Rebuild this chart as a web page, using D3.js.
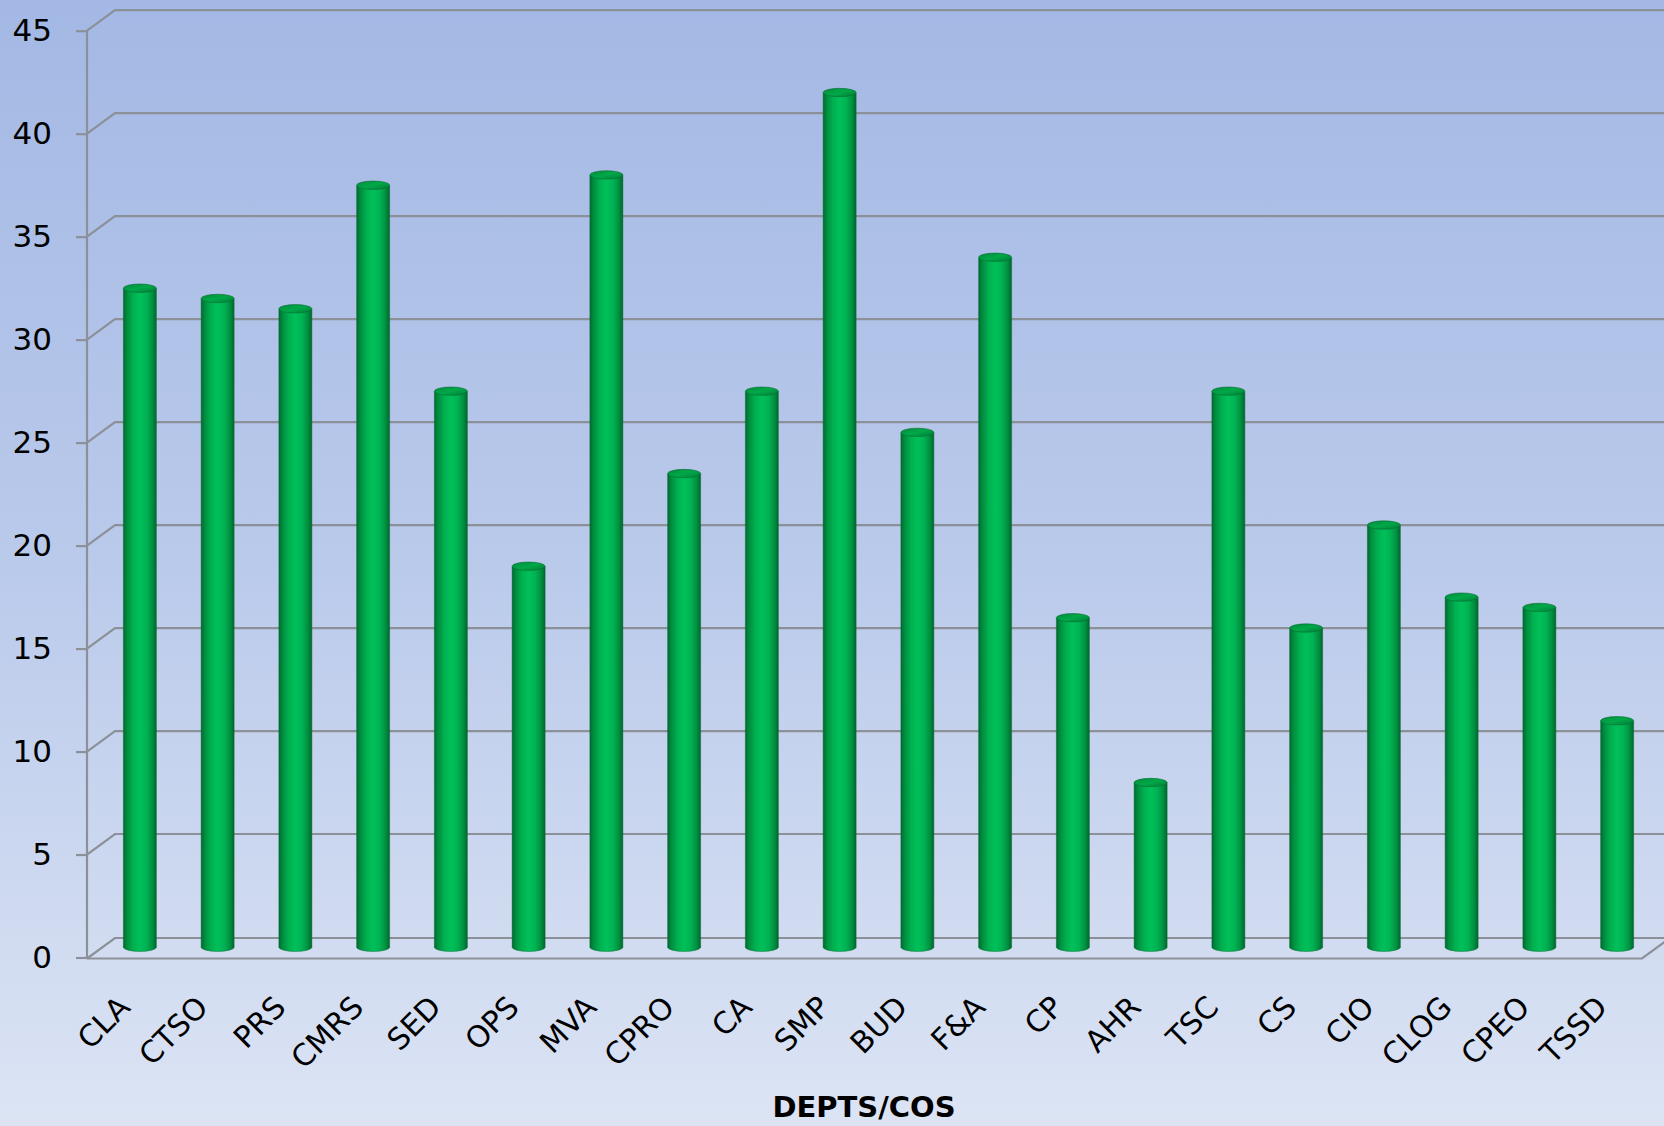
<!DOCTYPE html>
<html>
<head>
<meta charset="utf-8">
<script src="https://cdn.jsdelivr.net/npm/d3@7"></script>
<style>
  html, body { margin: 0; padding: 0; background: #cdd8ef; }
  svg { display: block; }
  text { font-family: "DejaVu Sans", sans-serif; fill: #000; }
</style>
</head>
<body>
<script>
const categories = ["CLA","CTSO","PRS","CMRS","SED","OPS","MVA","CPRO","CA","SMP","BUD","F&A","CP","AHR","TSC","CS","CIO","CLOG","CPEO","TSSD"];
const values = [32, 31.5, 31, 37, 27, 18.5, 37.5, 23, 27, 41.5, 25, 33.5, 16, 8, 27, 15.5, 20.5, 17, 16.5, 11];
const yTicks = [0, 5, 10, 15, 20, 25, 30, 35, 40, 45];
const xTitle = "DEPTS/COS";

const W = 1664, H = 1126;
const FONT = '"DejaVu Sans", sans-serif';
const frontLeft = 87, frontRight = 1642;
const depthX = 28, depthY = -20.5;
const svg = d3.select("body").append("svg").attr("width", W).attr("height", H);
const defs = svg.append("defs");

// background gradient
const bg = defs.append("linearGradient").attr("id", "bg").attr("x1", 0).attr("y1", 0).attr("x2", 0).attr("y2", 1);
bg.append("stop").attr("offset", "0%").attr("stop-color", "#a3b8e4");
bg.append("stop").attr("offset", "50%").attr("stop-color", "#bacaeb");
bg.append("stop").attr("offset", "100%").attr("stop-color", "#dce4f4");
svg.append("rect").attr("width", W).attr("height", H).attr("fill", "url(#bg)");

// cylinder body gradient
const cg = defs.append("linearGradient").attr("id", "cyl").attr("x1", 0).attr("y1", 0).attr("x2", 1).attr("y2", 0);
[["0%","#006a2e"],["10%","#008a3e"],["30%","#00b04f"],["50%","#00c05a"],["70%","#00b252"],["88%","#008f40"],["100%","#00672d"]]
  .forEach(s => cg.append("stop").attr("offset", s[0]).attr("stop-color", s[1]));
const tg = defs.append("linearGradient").attr("id", "cyltop").attr("x1", 0).attr("y1", 0).attr("x2", 1).attr("y2", 1);
[["0%","#008a3d"],["50%","#00a848"],["100%","#007d37"]]
  .forEach(s => tg.append("stop").attr("offset", s[0]).attr("stop-color", s[1]));

const yFront = d3.scaleLinear().domain([0, 45]).range([957.5, 30.7]);
const yBack = v => yFront(v) + depthY;
const yMid = v => yFront(v) + depthY / 2;
const x = d3.scaleBand().domain(categories).range([frontLeft, frontRight]).padding(0);

const grid = "#8c9098";
// floor
const floorY = 958.5;
svg.append("path")
  .attr("d", `M${frontLeft},${floorY} L${frontLeft + depthX},${floorY + depthY} L${W + 10},${floorY + depthY}`)
  .attr("fill", "none").attr("stroke", grid).attr("stroke-width", 2.2);
svg.append("path")
  .attr("d", `M${frontLeft},${floorY} L${frontRight},${floorY} L${frontRight + depthX},${floorY + depthY}`)
  .attr("fill", "none").attr("stroke", grid).attr("stroke-width", 2.2);

// gridlines (side wall + back wall)
svg.append("g").selectAll("path").data(yTicks.filter(d => d > 0)).join("path")
  .attr("d", d => `M${frontLeft},${yFront(d)} L${frontLeft + depthX},${yBack(d)} L${W + 10},${yBack(d)}`)
  .attr("fill", "none").attr("stroke", grid).attr("stroke-width", 2.2);

// y axis
const yAxis = svg.append("g").attr("transform", `translate(${frontLeft},0)`)
  .call(d3.axisLeft(yFront).tickValues(yTicks).tickSize(11).tickPadding(24).tickFormat(d3.format("d")));
yAxis.select(".domain").attr("stroke", grid).attr("stroke-width", 2.2).attr("d", `M0,${yFront(45)}V${floorY}`);
yAxis.selectAll(".tick line").attr("stroke", grid).attr("stroke-width", 2.2);
yAxis.selectAll(".tick text").attr("font-size", 31).attr("fill", "#000").attr("font-family", FONT);

// bars (cylinders)
const rx = 16.5, ry = 4.2;
const bars = svg.append("g").selectAll("g").data(categories.map((c, i) => ({ c, v: values[i] }))).join("g");
const cx = d => x(d.c) + x.bandwidth() / 2 + depthX / 2;
bars.append("ellipse")
  .attr("cx", cx).attr("cy", yMid(0)).attr("rx", rx).attr("ry", ry)
  .attr("fill", "url(#cyl)").attr("stroke", "#0a6a33").attr("stroke-width", 0.8).attr("stroke-opacity", 0.6);
bars.append("rect")
  .attr("x", d => cx(d) - rx).attr("y", d => yMid(d.v)).attr("width", rx * 2)
  .attr("height", d => yMid(0) - yMid(d.v)).attr("fill", "url(#cyl)");
bars.append("path")
  .attr("d", d => `M${cx(d) - rx},${yMid(d.v)} V${yMid(0)} M${cx(d) + rx},${yMid(d.v)} V${yMid(0)}`)
  .attr("stroke", "#0a6a33").attr("stroke-width", 0.8).attr("stroke-opacity", 0.6);
bars.append("ellipse")
  .attr("cx", cx).attr("cy", d => yMid(d.v)).attr("rx", rx).attr("ry", ry)
  .attr("fill", "url(#cyltop)").attr("stroke", "#0a6a33").attr("stroke-width", 0.8).attr("stroke-opacity", 0.7);

// category labels
svg.append("g").selectAll("text").data(categories).join("text")
  .attr("transform", d => `translate(${x(d) + x.bandwidth() / 2 + depthX / 2 - 8},1009) rotate(-45)`)
  .attr("text-anchor", "end").attr("font-size", 30).attr("font-family", FONT).text(d => d);

// x title
svg.append("text").attr("x", 864).attr("y", 1117).attr("text-anchor", "middle").attr("font-family", FONT)
  .attr("font-size", 29).attr("font-weight", "bold").text(xTitle);
</script>
</body>
</html>
